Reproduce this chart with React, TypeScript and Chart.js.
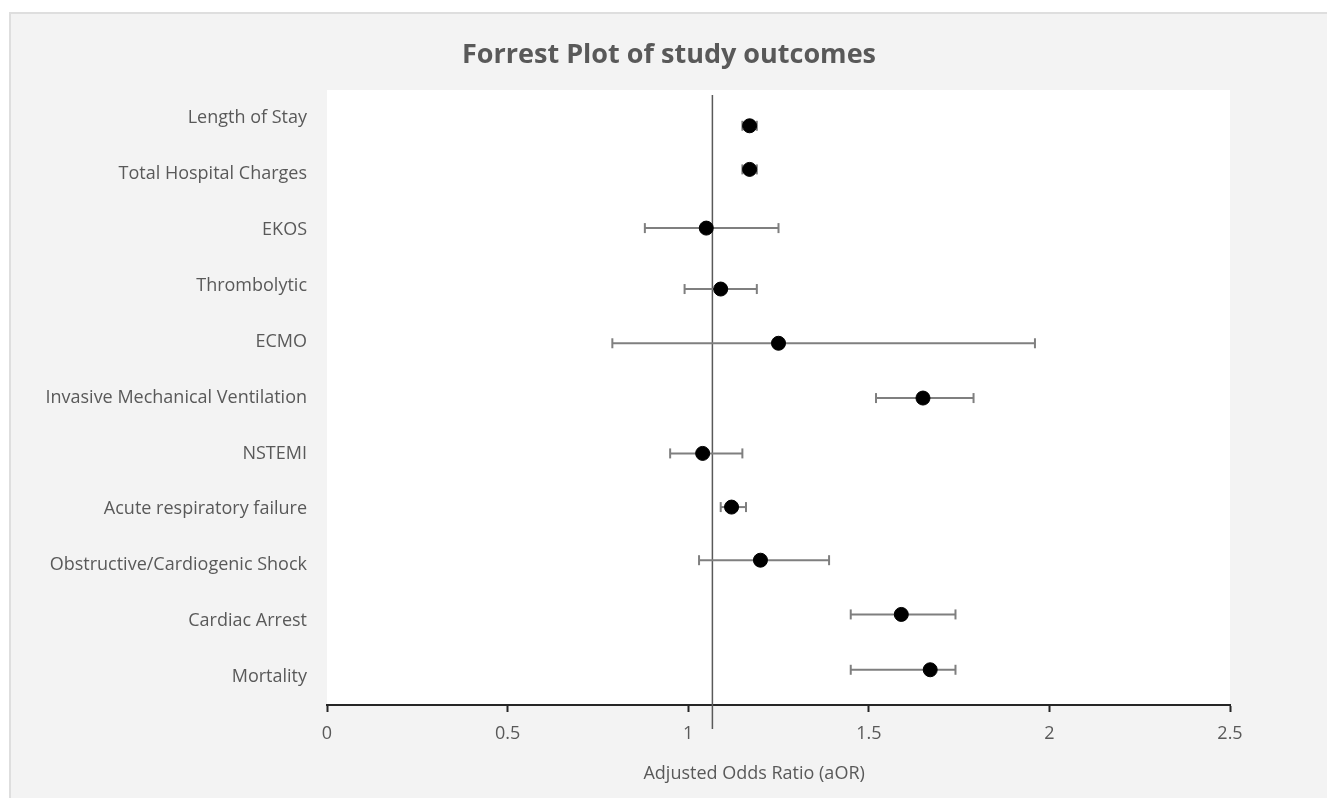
import { useEffect, useRef } from 'react';
import { Chart, registerables } from 'chart.js';

Chart.register(...registerables);

const chartTitle = 'Forrest Plot of study outcomes';
const xAxisTitle = 'Adjusted Odds Ratio (aOR)';

const categories = [
  'Length of Stay',
  'Total Hospital Charges',
  'EKOS',
  'Thrombolytic',
  'ECMO',
  'Invasive Mechanical Ventilation',
  'NSTEMI',
  'Acute respiratory failure',
  'Obstructive/Cardiogenic Shock',
  'Cardiac Arrest',
  'Mortality',
];

const aor = [1.17, 1.17, 1.05, 1.09, 1.25, 1.65, 1.04, 1.12, 1.2, 1.59, 1.67];
const ciLow = [1.15, 1.15, 0.88, 0.99, 0.79, 1.52, 0.95, 1.09, 1.03, 1.45, 1.45];
const ciHigh = [1.19, 1.19, 1.25, 1.19, 1.96, 1.79, 1.15, 1.16, 1.39, 1.74, 1.74];
const yPos = [10.86, 10.08, 9.03, 7.94, 6.97, 5.99, 5.0, 4.04, 3.09, 2.12, 1.13];

const refLineX = 1.067;
const refLineY = [0.07, 11.41];

const xTicks = [0, 0.5, 1, 1.5, 2, 2.5];

const FONT = '"Open Sans", Lato, sans-serif';
const TEXT = '#595959';

export default function App() {
  const ref = useRef<HTMLCanvasElement>(null);

  useEffect(() => {
    const canvas = ref.current;
    if (!canvas) return;
    const n = categories.length;

    const errorSets: any[] = categories.map((c, i) => ({
      type: 'line',
      label: c + ' CI',
      data: [
        { x: ciLow[i], y: yPos[i] },
        { x: ciHigh[i], y: yPos[i] },
      ],
      borderColor: '#7f7f7f',
      borderWidth: 2,
      pointStyle: 'line',
      pointRotation: 90,
      pointRadius: 5,
      pointBorderWidth: 2,
      pointBorderColor: '#7f7f7f',
      pointBackgroundColor: '#7f7f7f',
      showLine: true,
      fill: false,
      order: 2,
    }));

    const plotBg = {
      id: 'plotBg',
      beforeDraw(chart: any) {
        const { ctx, chartArea } = chart;
        ctx.save();
        ctx.fillStyle = '#ffffff';
        ctx.fillRect(chartArea.left, chartArea.top, chartArea.width, chartArea.height);
        ctx.restore();
      },
    };

    const axisTitle = {
      id: 'axisTitle',
      afterDraw(chart: any) {
        const { ctx, chartArea } = chart;
        ctx.save();
        ctx.fillStyle = TEXT;
        ctx.font = '18px ' + FONT;
        ctx.textAlign = 'center';
        ctx.textBaseline = 'middle';
        ctx.fillText(xAxisTitle, chartArea.left + chartArea.width * 0.473, chartArea.bottom + 69);
        ctx.restore();
      },
    };

    const chart = new Chart(canvas, {
      type: 'scatter',
      data: {
        datasets: [
          {
            type: 'scatter',
            label: 'aOR',
            data: aor.map((x, i) => ({ x, y: yPos[i] })),
            backgroundColor: '#000000',
            borderColor: '#000000',
            pointRadius: 7,
            pointHoverRadius: 7,
            order: 0,
          } as any,
          ...errorSets,
          {
            type: 'line',
            label: 'reference',
            data: [
              { x: refLineX, y: refLineY[0] },
              { x: refLineX, y: refLineY[1] },
            ],
            borderColor: '#595959',
            borderWidth: 1.5,
            pointRadius: 0,
            showLine: true,
            fill: false,
            clip: false,
            order: 3,
          } as any,
        ],
      },
      options: {
        responsive: false,
        animation: false,
        events: [],
        layout: { padding: 0 },
        plugins: {
          legend: { display: false },
          tooltip: { enabled: false },
          title: {
            display: true,
            text: chartTitle,
            color: TEXT,
            font: { family: FONT, size: 27, weight: 'bold' },
            padding: { top: 24.8, bottom: 18.8 },
          },
        },
        scales: {
          x: {
            type: 'linear',
            min: 0,
            max: 2.5,
            afterBuildTicks: (s: any) => {
              s.ticks = xTicks.map((v) => ({ value: v }));
            },
            grid: {
              drawOnChartArea: false,
              drawTicks: true,
              tickLength: 7,
              tickWidth: 2,
              tickColor: '#262626',
            },
            border: { display: true, color: '#262626', width: 2 },
            ticks: {
              color: TEXT,
              font: { family: FONT, size: 18 },
              padding: 11,
              callback: (v: any) => String(v),
            },
            afterFit: (s: any) => {
              s.height = 93;
            },
          },
          y: {
            type: 'linear',
            min: 0.5,
            max: 11.5,
            afterBuildTicks: (s: any) => {
              s.ticks = categories.map((_, i) => ({ value: n - i }));
            },
            grid: { display: false, drawTicks: false },
            border: { display: false },
            ticks: {
              color: TEXT,
              font: { family: FONT, size: 18 },
              padding: 20,
              autoSkip: false,
              callback: (v: any) => categories[n - Number(v)],
            },
            afterFit: (s: any) => {
              s.width = 316;
            },
          },
          yRight: {
            type: 'linear',
            position: 'right',
            display: true,
            grid: { display: false, drawTicks: false },
            border: { display: false },
            ticks: { display: false },
            afterFit: (s: any) => {
              s.width = 97;
            },
          },
        },
      } as any,
      plugins: [plotBg, axisTitle],
    });

    return () => chart.destroy();
  }, []);

  return (
    <div
      style={{
        position: 'fixed',
        left: 9,
        top: 12,
        right: 0,
        bottom: 0,
        borderLeft: '2px solid #dedede',
        borderTop: '2px solid #dedede',
        background: '#f3f3f3',
        overflow: 'hidden',
      }}
    >
      <canvas ref={ref} width={1316} height={784} style={{ display: 'block' }} />
    </div>
  );
}
